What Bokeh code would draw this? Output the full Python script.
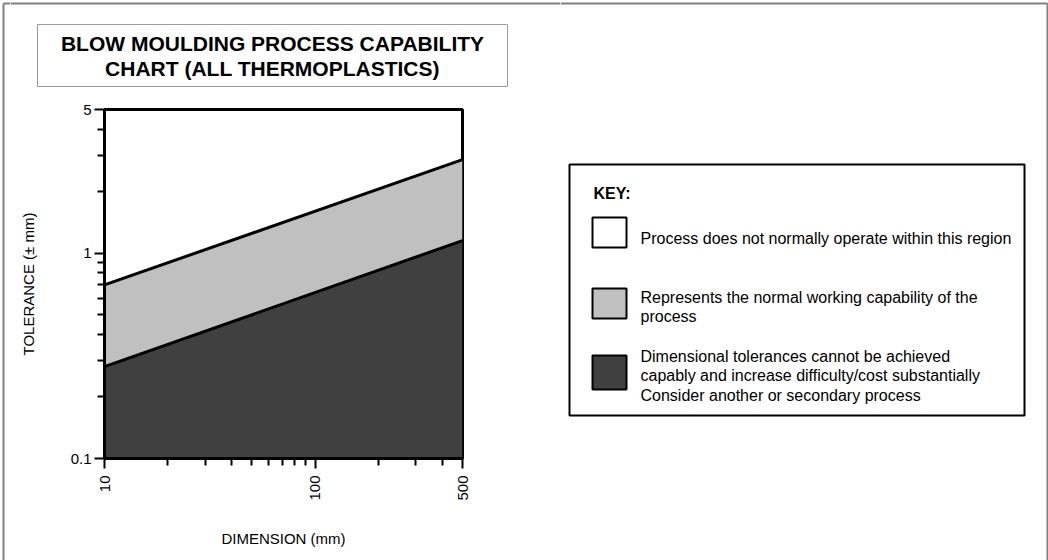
import math
from bokeh.plotting import figure
from bokeh.layouts import row, column
from bokeh.models import Range1d, FixedTicker, CustomJSTickFormatter, Label
from bokeh.embed import file_html
from bokeh.resources import INLINE

# ---------------- data ----------------
dimension = [10, 500]
upper_tol = [0.70, 2.85]
lower_tol = [0.28, 1.15]
floor_tol = [0.1, 0.1]

x_major = [10, 100, 500]
x_minor = [20, 30, 40, 50, 60, 70, 80, 90, 200, 300, 400]
y_major = [0.1, 1, 5]
y_minor = [0.2, 0.3, 0.4, 0.5, 0.6, 0.7, 0.8, 0.9, 2, 3, 4]

title_lines = ["BLOW MOULDING PROCESS CAPABILITY", "CHART (ALL THERMOPLASTICS)"]
x_title = "DIMENSION (mm)"
y_title = "TOLERANCE (\u00b1 mm)"
key_title = "KEY:"
key_labels = [
    ["Process does not normally operate within this region"],
    ["Represents the normal working capability of the", "process"],
    ["Dimensional tolerances cannot be achieved",
     "capably and increase difficulty/cost substantially",
     "Consider another or secondary process"],
]
key_colors = ["#ffffff", "#c0c0c0", "#404040"]

FONT = "Liberation Sans"
FRAME_GRAY = "#808080"


def canvas_fig(x0, y0, w, h):
    """A figure whose frame is the whole figure, in page pixel units (y pointing down)."""
    f = figure(width=w, height=h, x_range=Range1d(x0, x0 + w), y_range=Range1d(y0 + h, y0),
               output_backend="svg", toolbar_location=None, title=None,
               min_border=0, x_axis_location=None, y_axis_location=None)
    f.grid.visible = False
    f.outline_line_color = None
    f.background_fill_color = "white"
    f.border_fill_color = "white"
    return f


def add_label(f, x, y, text, size, bold=False, align="left"):
    f.add_layout(Label(x=x, y=y, text=text, text_font=FONT, text_font_size=size,
                       text_font_style="bold" if bold else "normal",
                       text_color="black", text_align=align,
                       text_baseline="alphabetic"))


# ---------------- left frame strip ----------------
fl = canvas_fig(0, 0, 10, 560)
fl.segment(x0=[3, 3], y0=[3, 3], x1=[3, 10], y1=[560, 3],
           line_color=FRAME_GRAY, line_width=2)

# ---------------- title area ----------------
fa = canvas_fig(10, 0, 550, 100)
fa.segment(x0=[10], y0=[3], x1=[560], y1=[3], line_color=FRAME_GRAY, line_width=2)
fa.quad(left=[37], right=[507], top=[24], bottom=[86], fill_color=None,
        line_color="#9a9a9a", line_width=1)
add_label(fa, 272, 43, title_lines[0], "21px", bold=True, align="center")
add_label(fa, 272, 68, title_lines[1], "21px", bold=True, align="center")

# ---------------- chart ----------------
p = figure(width=550, height=460, x_axis_type="log", y_axis_type="log",
           x_range=Range1d(10, 500), y_range=Range1d(0.1, 5),
           output_backend="svg", toolbar_location=None, title=None,
           min_border_left=94, min_border_right=98,
           min_border_top=9, min_border_bottom=102)
p.background_fill_color = "white"
p.border_fill_color = "white"
p.grid.visible = False
p.outline_line_color = "black"
p.outline_line_width = 3

p.varea(x=dimension, y1=floor_tol, y2=lower_tol, fill_color=key_colors[2])
p.varea(x=dimension, y1=lower_tol, y2=upper_tol, fill_color=key_colors[1])
p.line(dimension, upper_tol, line_color="black", line_width=3)
p.line(dimension, lower_tol, line_color="black", line_width=3)

fmt = CustomJSTickFormatter(code="return tick.toString();")
p.xaxis.ticker = FixedTicker(ticks=x_major, minor_ticks=x_minor)
p.yaxis.ticker = FixedTicker(ticks=y_major, minor_ticks=y_minor)
for ax in (p.xaxis[0], p.yaxis[0]):
    ax.formatter = fmt
    ax.axis_line_color = "black"
    ax.axis_line_width = 3
    ax.major_tick_line_color = "black"
    ax.minor_tick_line_color = "black"
    ax.major_tick_line_width = 2
    ax.minor_tick_line_width = 2
    ax.major_tick_out = 10
    ax.major_tick_in = 0
    ax.minor_tick_out = 7
    ax.minor_tick_in = 0
    ax.major_label_text_font = FONT
    ax.major_label_text_font_size = "15px"
    ax.major_label_text_color = "black"
    ax.axis_label_text_font = FONT
    ax.axis_label_text_font_size = "15px"
    ax.axis_label_text_font_style = "normal"
    ax.axis_label_text_color = "black"

p.xaxis.axis_label = x_title
p.yaxis.axis_label = y_title
p.xaxis.major_label_orientation = math.pi / 2
p.xaxis.major_label_standoff = 7
p.yaxis.major_label_standoff = 3
p.xaxis.axis_label_standoff = 26
p.yaxis.axis_label_standoff = 31

# ---------------- key area ----------------
fc = canvas_fig(560, 0, 488, 560)
fc.segment(x0=[560, 1047], y0=[3, 3], x1=[1047, 1047], y1=[3, 560],
           line_color=FRAME_GRAY, line_width=2)
fc.quad(left=[569], right=[1024], top=[164], bottom=[415], fill_color=None,
        line_color="black", line_width=2)
add_label(fc, 593, 193, key_title, "16px", bold=True)
sw_top = [217, 288, 355]
sw_bottom = [247, 318, 389]
fc.quad(left=[592] * 3, right=[626] * 3, top=sw_top, bottom=sw_bottom,
        fill_color=key_colors, line_color="black", line_width=2)
baselines = [[238], [297, 316], [356, 375, 395]]
for lines, bls in zip(key_labels, baselines):
    for t, y in zip(lines, bls):
        add_label(fc, 640, y, t, "16px")

layout = row(fl, column(fa, row(p)), fc)
open("out.html", "w").write(file_html(layout, INLINE))
